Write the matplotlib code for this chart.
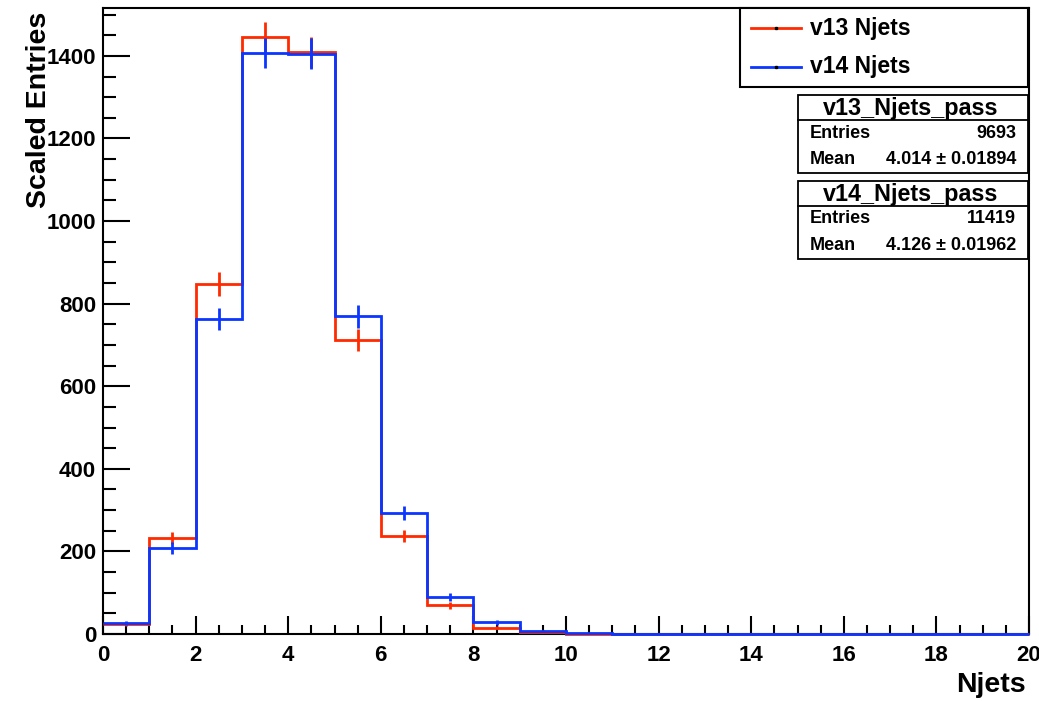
import numpy as np
import matplotlib.pyplot as plt
from matplotlib.patches import Rectangle
from matplotlib.lines import Line2D
from matplotlib.ticker import MultipleLocator

plt.rcParams['font.family'] = ['Liberation Sans', 'DejaVu Sans']
plt.rcParams['font.weight'] = 'bold'

# Njets histogram, one bin per jet multiplicity (0..20)
bin_edges = list(range(0, 21))
v13_counts = [24, 232, 848, 1445, 1409, 712, 237, 70, 15, 5, 1,
              0, 0, 0, 0, 0, 0, 0, 0, 0]
v14_counts = [27, 208, 763, 1407, 1405, 769, 293, 90, 28, 7, 2,
              0, 0, 0, 0, 0, 0, 0, 0, 0]

legend_labels = ["v13 Njets", "v14 Njets"]
stat_names = ["v13_Njets_pass", "v14_Njets_pass"]
stat_entries = ["9693", "11419"]
stat_means = ["4.014 \u00b1 0.01894", "4.126 \u00b1 0.01962"]

red = '#ff2a00'
blue = '#0a36ff'

W, H = 1039, 701
fig = plt.figure(figsize=(W / 100, H / 100), dpi=100)


def fx(px):
    return px / W


def fy(py):
    return 1 - py / H


ax = fig.add_axes([fx(103), fy(634), (1029 - 103) / W, (634 - 8) / H])

edges = np.array(bin_edges)
centers = (edges[:-1] + edges[1:]) / 2
for counts, col in [(v13_counts, red), (v14_counts, blue)]:
    vals = np.array(counts, dtype=float)
    ax.stairs(vals, edges, color=col, lw=2, baseline=None, zorder=3,
              clip_on=False)
    # ROOT style sqrt(N) error bars at bin centres
    ax.errorbar(centers, vals, yerr=np.sqrt(vals), fmt='none',
                ecolor=col, elinewidth=2, zorder=3)

ax.set_xlim(0, 20)
ax.set_ylim(0, 1516)
ax.xaxis.set_major_locator(MultipleLocator(2))
ax.xaxis.set_minor_locator(MultipleLocator(0.5))
ax.yaxis.set_major_locator(MultipleLocator(200))
ax.yaxis.set_minor_locator(MultipleLocator(50))
ax.tick_params(axis='x', which='major', direction='in', length=13, width=1.5,
               labelsize=16, pad=8)
ax.tick_params(axis='x', which='minor', direction='in', length=6.5, width=1.5)
ax.tick_params(axis='y', which='major', direction='in', length=19.5, width=1.5,
               labelsize=16, pad=5)
ax.tick_params(axis='y', which='minor', direction='in', length=9.5, width=1.5)
for sp in ax.spines.values():
    sp.set_linewidth(1.5)
for lab in ax.get_xticklabels() + ax.get_yticklabels():
    lab.set_fontweight('bold')

fig.text(fx(1026), fy(692), "Njets", ha='right', va='baseline', fontsize=20.5)
fig.text(fx(39), fy(12), "Scaled Entries", rotation=90, ha='center', va='top',
         fontsize=20.5)

# legend box
fig.add_artist(Rectangle((fx(740), fy(87)), fx(1028 - 740), (87 - 8) / H,
                         transform=fig.transFigure, facecolor='white',
                         edgecolor='black', lw=1.5))
for label, col, ypx in zip(legend_labels, [red, blue], [28, 67]):
    fig.add_artist(Line2D([fx(751), fx(801)], [fy(ypx), fy(ypx)],
                          transform=fig.transFigure, color=col, lw=2))
    fig.add_artist(Line2D([fx(776)], [fy(ypx)], transform=fig.transFigure,
                          color='black', marker='s', markersize=1.5, lw=0))
    fig.text(fx(810), fy(ypx), label, ha='left', va='center', fontsize=16.5)

# stats boxes
for i, (name, ent, mean) in enumerate(zip(stat_names, stat_entries, stat_means)):
    top = 95 + i * 86
    bot = top + 78
    sep = top + 25
    fig.add_artist(Rectangle((fx(798), fy(bot)), fx(1028 - 798), (bot - top) / H,
                             transform=fig.transFigure, facecolor='white',
                             edgecolor='black', lw=1.3))
    fig.add_artist(Line2D([fx(798), fx(1028)], [fy(sep), fy(sep)],
                          transform=fig.transFigure, color='black', lw=1.3))
    fig.text(fx(911), fy(top + 13), name, ha='center', va='center', fontsize=16.8)
    fig.text(fx(810), fy(top + 38), "Entries", ha='left', va='center', fontsize=13)
    fig.text(fx(1016), fy(top + 38), ent, ha='right', va='center', fontsize=13)
    fig.text(fx(810), fy(top + 65), "Mean", ha='left', va='center', fontsize=13)
    fig.text(fx(1016), fy(top + 65), mean, ha='right', va='center', fontsize=13)

fig.savefig("out.png", dpi=100)
